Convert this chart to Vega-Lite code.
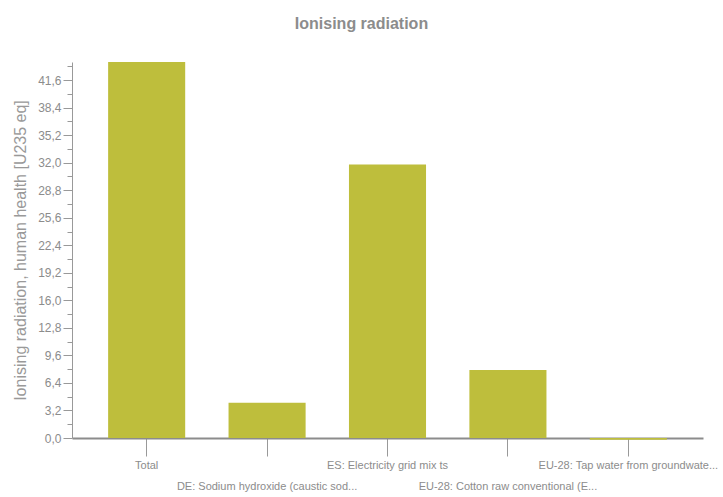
{
  "$schema": "https://vega.github.io/schema/vega-lite/v6.json",
  "autosize": "none",
  "width": 631,
  "height": 376,
  "padding": {"left": 72, "top": 62, "right": 20, "bottom": 59},
  "background": "white",
  "title": {
    "text": "Ionising radiation",
    "font": "Liberation Sans, sans-serif",
    "fontSize": 16,
    "fontWeight": "bold",
    "color": "#8c8c8c",
    "offset": 30,
    "anchor": "middle",
    "dx": -26
  },
  "config": {
    "view": {"stroke": null},
    "font": "Liberation Sans, sans-serif"
  },
  "data": {
    "values": [
      {"category": "Total", "value": 43.7},
      {"category": "DE: Sodium hydroxide (caustic sod...", "value": 4.1},
      {"category": "ES: Electricity grid mix ts", "value": 31.8},
      {"category": "EU-28: Cotton raw conventional (E...", "value": 7.9},
      {"category": "EU-28: Tap water from groundwate...", "value": -0.2}
    ]
  },
  "mark": {"type": "bar", "color": "#bebe3c"},
  "encoding": {
    "x": {
      "field": "category",
      "type": "nominal",
      "sort": null,
      "scale": {"paddingInner": 0.36, "paddingOuter": 0.3},
      "axis": {
        "title": null,
        "labelAngle": 0,
        "labelColor": "#8c8c8c",
        "labelFontSize": 11,
        "labelLimit": 300,
        "labelPadding": {"condition": {"test": "indexof(['DE: Sodium hydroxide (caustic sod...', 'EU-28: Cotton raw conventional (E...'], datum.value) >= 0", "value": 24}, "value": 3},
        "tickSize": 18,
        "tickColor": "#999999",
        "tickWidth": 1,
        "domainColor": "#8c8c8c",
        "domainWidth": 2
      }
    },
    "y": {
      "field": "value",
      "type": "quantitative",
      "scale": {"domain": [0, 43.7], "nice": false, "zero": true},
      "axis": {
        "title": "Ionising radiation, human health [U235 eq]",
        "titleFontSize": 16,
        "titleFontWeight": "normal",
        "titleColor": "#999999",
        "titleX": -52,
        "titleY": 188,
        "titleAngle": -90,
        "titleAlign": "center",
        "titleBaseline": "middle",
        "values": [0, 1.6, 3.2, 4.8, 6.4, 8.0, 9.6, 11.2, 12.8, 14.4, 16.0, 17.6, 19.2, 20.8, 22.4, 24.0, 25.6, 27.2, 28.8, 30.4, 32.0, 33.6, 35.2, 36.8, 38.4, 40.0, 41.6, 43.2],
        "labelExpr": "abs(datum.value/3.2 - round(datum.value/3.2)) > 0.1 ? '' : replace(format(datum.value, '.1f'), '.', ',')",
        "labelColor": "#8c8c8c",
        "labelFontSize": 12,
        "labelPadding": 2,
        "grid": false,
        "tickSize": {"condition": {"test": "abs(datum.value/3.2 - round(datum.value/3.2)) > 0.1", "value": 5}, "value": 9},
        "tickColor": "#999999",
        "domainColor": "#999999",
        "domainWidth": 1
      }
    }
  }
}
